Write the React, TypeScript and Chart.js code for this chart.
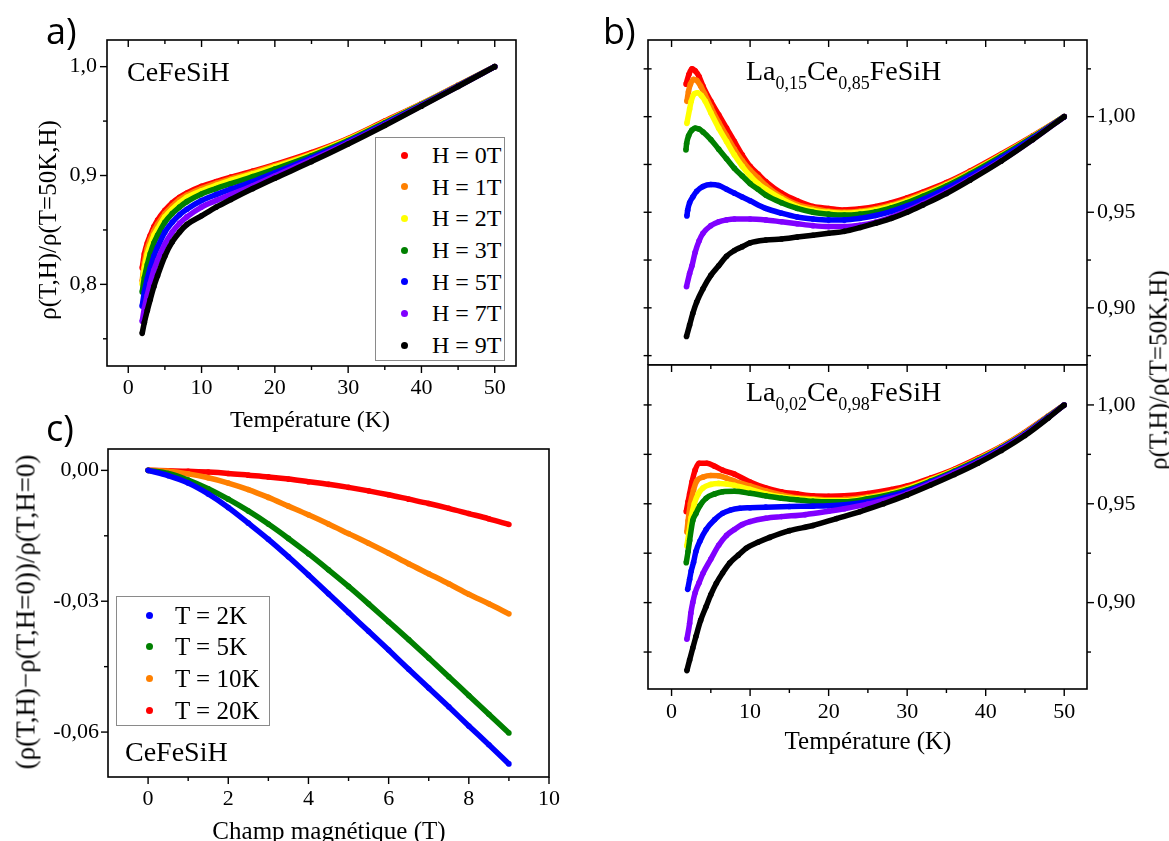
import React, { useEffect, useRef } from "react";
import { Chart, registerables } from "chart.js";
Chart.register(...registerables);

const SERIF = '"Liberation Serif", "Times New Roman", serif';
const SANS = '"Open Sans", "Noto Sans", sans-serif';

type Pt = [number, number];

// ---------- colours & labels ----------
const H_COLORS = ["#ff0000", "#ff8000", "#ffff00", "#008000", "#0000ff", "#8000ff", "#000000"];
const H_LABELS = ["H = 0T", "H = 1T", "H = 2T", "H = 3T", "H = 5T", "H = 7T", "H = 9T"];
const C_COLORS = ["#0000ff", "#008000", "#ff8000", "#ff0000"];
const C_LABELS = ["T = 2K", "T = 5K", "T = 10K", "T = 20K"];

// ---------- panel a : CeFeSiH ----------
const A_T = [1.9, 2.2, 2.6, 3, 3.5, 4, 5, 6, 7, 8, 10, 12, 14, 17, 20, 25, 30, 35, 40, 45, 50];
const A_H0 = [0.815, 0.828, 0.838, 0.845, 0.853, 0.859, 0.868, 0.875, 0.88, 0.884, 0.89, 0.8945, 0.8985, 0.904, 0.91, 0.921, 0.934, 0.95, 0.966, 0.983, 1.0];
const A_H1 = [0.803, 0.82, 0.833, 0.841, 0.849, 0.855, 0.865, 0.872, 0.878, 0.882, 0.888, 0.8928, 0.897, 0.9027, 0.909, 0.92, 0.9335, 0.9495, 0.9657, 0.9828, 1.0];
const A_H2 = [0.8, 0.815, 0.828, 0.836, 0.845, 0.851, 0.862, 0.869, 0.875, 0.88, 0.886, 0.891, 0.8955, 0.9015, 0.908, 0.9193, 0.933, 0.949, 0.9655, 0.9827, 1.0];
const A_H3 = [0.793, 0.806, 0.818, 0.828, 0.838, 0.845, 0.857, 0.865, 0.871, 0.876, 0.883, 0.888, 0.8925, 0.899, 0.906, 0.9182, 0.9322, 0.9485, 0.9652, 0.9825, 1.0];
const A_H5 = [0.78, 0.793, 0.805, 0.815, 0.826, 0.834, 0.848, 0.857, 0.864, 0.869, 0.877, 0.8825, 0.8875, 0.8945, 0.9025, 0.9163, 0.931, 0.9475, 0.9647, 0.9822, 1.0];
const A_H7 = [0.766, 0.778, 0.79, 0.801, 0.813, 0.822, 0.837, 0.848, 0.856, 0.862, 0.871, 0.877, 0.8825, 0.8905, 0.8995, 0.9145, 0.93, 0.9467, 0.9642, 0.982, 1.0];
const A_H9 = [0.755, 0.765, 0.776, 0.786, 0.798, 0.808, 0.826, 0.839, 0.848, 0.855, 0.863, 0.871, 0.878, 0.888, 0.8975, 0.9128, 0.929, 0.946, 0.9637, 0.9818, 1.0];
const A_X_TICKS = [0, 10, 20, 30, 40, 50];
const A_X_MINOR = [5, 15, 25, 35, 45];
const A_Y_TICKS = [0.8, 0.9, 1.0];
const A_Y_MINOR = [0.75, 0.85, 0.95];

// ---------- panel b (top) : La0.15Ce0.85FeSiH ----------
const BT_H0: Pt[] = [[1.85, 1.017], [2.2, 1.022], [2.6, 1.025], [3, 1.024], [3.5, 1.021], [4, 1.016], [5, 1.008], [6, 1.001], [7, 0.994], [8, 0.987], [9, 0.98], [10, 0.974], [11, 0.97], [12, 0.966], [14, 0.96], [16, 0.956], [18, 0.953], [20, 0.952], [22, 0.9512], [24, 0.9518], [26, 0.953], [28, 0.955], [30, 0.9575], [32, 0.9605], [35, 0.9655], [38, 0.9715], [42, 0.9805], [46, 0.99], [50, 1.0]];
const BT_H1: Pt[] = [[1.95, 1.008], [2.15, 1.013], [2.4, 1.017], [2.8, 1.0195], [3.2, 1.019], [3.7, 1.016], [4.2, 1.012], [5, 1.005], [6, 0.997], [7, 0.99], [8, 0.983], [9, 0.977], [10, 0.972], [11, 0.968], [12, 0.964], [14, 0.958], [16, 0.954], [18, 0.952], [20, 0.9505], [22, 0.95], [24, 0.9505], [26, 0.9518], [28, 0.9538], [30, 0.9565], [32, 0.9596], [35, 0.9648], [38, 0.9709], [42, 0.98], [46, 0.9897], [50, 1.0]];
const BT_H2: Pt[] = [[1.95, 0.9965], [2.3, 1.004], [2.5, 1.008], [2.9, 1.012], [3.3, 1.0125], [3.8, 1.011], [4.3, 1.008], [5, 1.002], [6, 0.994], [7, 0.987], [8, 0.98], [9, 0.974], [10, 0.969], [11, 0.965], [12, 0.962], [14, 0.957], [16, 0.953], [18, 0.951], [20, 0.95], [22, 0.9495], [24, 0.95], [26, 0.9512], [28, 0.9532], [30, 0.9558], [32, 0.959], [35, 0.9643], [38, 0.9705], [42, 0.9797], [46, 0.9895], [50, 1.0]];
const BT_H3: Pt[] = [[1.83, 0.9826], [1.92, 0.986], [2.17, 0.99], [2.6, 0.993], [3, 0.994], [3.5, 0.9935], [4, 0.992], [5, 0.988], [6, 0.983], [7, 0.978], [8, 0.973], [9, 0.969], [10, 0.965], [11, 0.962], [12, 0.959], [14, 0.955], [16, 0.952], [18, 0.95], [20, 0.949], [22, 0.9485], [24, 0.949], [26, 0.9502], [28, 0.9523], [30, 0.955], [32, 0.9583], [35, 0.9637], [38, 0.97], [42, 0.9793], [46, 0.9893], [50, 1.0]];
const BT_H5: Pt[] = [[1.95, 0.948], [2.05, 0.951], [2.3, 0.955], [2.7, 0.958], [3.2, 0.961], [4, 0.9635], [5, 0.9645], [6, 0.964], [7, 0.962], [8, 0.96], [9, 0.958], [10, 0.956], [12, 0.952], [14, 0.9495], [16, 0.9475], [18, 0.9465], [20, 0.946], [22, 0.946], [24, 0.9468], [26, 0.9483], [28, 0.9505], [30, 0.9533], [32, 0.9567], [35, 0.9625], [38, 0.969], [42, 0.9785], [46, 0.9888], [50, 1.0]];
const BT_H7: Pt[] = [[1.9, 0.911], [2.3, 0.918], [2.6, 0.922], [3, 0.929], [3.5, 0.935], [4, 0.939], [5, 0.943], [6, 0.945], [7, 0.946], [8, 0.9465], [10, 0.9465], [12, 0.946], [14, 0.945], [16, 0.944], [18, 0.943], [20, 0.9425], [22, 0.9425], [24, 0.9432], [26, 0.9448], [28, 0.9475], [30, 0.9508], [32, 0.9545], [35, 0.9605], [38, 0.9673], [42, 0.9771], [46, 0.9881], [50, 1.0]];
const BT_H9: Pt[] = [[1.9, 0.885], [2.3, 0.891], [2.7, 0.897], [3.2, 0.903], [4, 0.91], [5, 0.917], [6, 0.922], [7, 0.927], [8, 0.93], [9, 0.932], [10, 0.934], [12, 0.9355], [14, 0.936], [16, 0.937], [18, 0.938], [20, 0.939], [22, 0.94], [24, 0.942], [26, 0.9443], [28, 0.9468], [30, 0.95], [32, 0.9538], [35, 0.9598], [38, 0.9668], [42, 0.9768], [46, 0.988], [50, 1.0]];

// ---------- panel b (bottom) : La0.02Ce0.98FeSiH ----------
const BB_H0: Pt[] = [[1.87, 0.946], [2.1, 0.951], [2.3, 0.955], [2.6, 0.961], [3, 0.967], [3.5, 0.9705], [4.5, 0.9705], [5.5, 0.969], [6.5, 0.967], [8, 0.965], [10, 0.961], [12, 0.958], [14, 0.956], [16, 0.955], [18, 0.954], [20, 0.9538], [22, 0.954], [25, 0.9552], [28, 0.9572], [30, 0.959], [33, 0.963], [36, 0.9675], [39, 0.973], [42, 0.979], [45, 0.9862], [48, 0.9945], [50, 1.0]];
const BB_H1: Pt[] = [[1.95, 0.9357], [2.1, 0.9413], [2.4, 0.95], [2.8, 0.957], [3.2, 0.9615], [4, 0.9635], [5, 0.9643], [6, 0.9642], [7, 0.963], [8, 0.9615], [10, 0.959], [12, 0.9565], [14, 0.9545], [16, 0.953], [18, 0.9525], [20, 0.952], [22, 0.9522], [25, 0.9535], [28, 0.9558], [30, 0.958], [33, 0.9623], [36, 0.967], [39, 0.9725], [42, 0.9788], [45, 0.986], [48, 0.9944], [50, 1.0]];
const BB_H2: Pt[] = [[1.95, 0.9287], [2.2, 0.935], [2.5, 0.943], [2.9, 0.95], [3.4, 0.955], [4, 0.958], [5, 0.9598], [6, 0.9603], [7, 0.96], [8, 0.9593], [10, 0.9573], [12, 0.955], [14, 0.9535], [16, 0.9525], [18, 0.952], [20, 0.9515], [22, 0.9515], [25, 0.953], [28, 0.9553], [30, 0.9575], [33, 0.962], [36, 0.9668], [39, 0.9722], [42, 0.9785], [45, 0.9857], [48, 0.9943], [50, 1.0]];
const BB_H3: Pt[] = [[1.87, 0.9202], [2.1, 0.9258], [2.3, 0.9314], [2.7, 0.9415], [3.1, 0.945], [3.6, 0.949], [4.4, 0.9528], [5.5, 0.955], [6.5, 0.9561], [8, 0.9563], [10, 0.9553], [12, 0.954], [14, 0.9528], [16, 0.952], [18, 0.9513], [20, 0.951], [22, 0.951], [25, 0.9525], [28, 0.9548], [30, 0.957], [33, 0.9615], [36, 0.9665], [39, 0.972], [42, 0.9783], [45, 0.9855], [48, 0.9942], [50, 1.0]];
const BB_H5: Pt[] = [[2.05, 0.9067], [2.3, 0.9118], [2.5, 0.916], [2.8, 0.9204], [3.1, 0.9258], [3.6, 0.931], [4.4, 0.937], [5.5, 0.942], [6.5, 0.9452], [7.5, 0.9468], [8.7, 0.9477], [10, 0.948], [12, 0.9483], [15, 0.9486], [18, 0.9488], [20, 0.949], [22, 0.9495], [25, 0.951], [28, 0.954], [30, 0.9563], [33, 0.961], [36, 0.966], [39, 0.9715], [42, 0.978], [45, 0.9853], [48, 0.994], [50, 1.0]];
const BB_H7: Pt[] = [[1.95, 0.8815], [2.3, 0.8895], [2.45, 0.8946], [2.7, 0.9], [3, 0.905], [3.5, 0.91], [4, 0.9148], [5, 0.922], [6, 0.929], [7, 0.934], [8, 0.937], [9, 0.9395], [10, 0.941], [12, 0.9427], [14, 0.9435], [17, 0.9445], [20, 0.9462], [22, 0.9475], [25, 0.9498], [28, 0.9527], [30, 0.9552], [33, 0.9603], [36, 0.9655], [39, 0.971], [42, 0.9775], [45, 0.985], [48, 0.9937], [50, 1.0]];
const BB_H9: Pt[] = [[1.95, 0.8656], [2.3, 0.871], [2.7, 0.877], [3.1, 0.8828], [3.7, 0.891], [4.4, 0.898], [5, 0.904], [5.7, 0.9098], [6.5, 0.915], [7.4, 0.92], [8.5, 0.924], [9.5, 0.9275], [11, 0.9305], [12.5, 0.933], [15, 0.9364], [18, 0.939], [21, 0.9425], [24, 0.946], [27, 0.95], [30, 0.9545], [33, 0.9595], [36, 0.9648], [39, 0.9705], [42, 0.977], [45, 0.9845], [48, 0.9935], [50, 1.0]];
const B_X_TICKS = [0, 10, 20, 30, 40, 50];
const B_X_MINOR = [5, 15, 25, 35, 45];
const B_Y_TICKS = [0.9, 0.95, 1.0];
const BT_Y_MINOR = [0.875, 0.925, 0.975, 1.025];
const BB_Y_MINOR = [0.875, 0.925, 0.975];

// ---------- panel c : magnetoresistance CeFeSiH ----------
const C_H = [0, 0.5, 1, 1.5, 2, 2.5, 3, 3.5, 4, 4.5, 5, 5.5, 6, 6.5, 7, 7.5, 8, 8.5, 9];
const C_T2 = [0, -0.0012, -0.0029, -0.0054, -0.0085, -0.0121, -0.0158, -0.0198, -0.024, -0.0283, -0.0326, -0.0369, -0.0412, -0.0456, -0.0499, -0.0542, -0.0586, -0.0629, -0.0673];
const C_T5 = [0, -0.0007, -0.0022, -0.0042, -0.0066, -0.0093, -0.0123, -0.0156, -0.0191, -0.0228, -0.0266, -0.0306, -0.0347, -0.0388, -0.043, -0.0473, -0.0516, -0.0559, -0.0602];
const C_T10 = [0, -0.0002, -0.0008, -0.0017, -0.0029, -0.0044, -0.0062, -0.0082, -0.0102, -0.0123, -0.0145, -0.0167, -0.019, -0.0214, -0.0237, -0.026, -0.0284, -0.0306, -0.0329];
const C_T20 = [0, -0.0001, -0.0002, -0.0004, -0.0007, -0.0011, -0.0015, -0.002, -0.0026, -0.0032, -0.0039, -0.0047, -0.0056, -0.0066, -0.0076, -0.0087, -0.0099, -0.0111, -0.0124];
const C_X_TICKS = [0, 2, 4, 6, 8, 10];
const C_X_MINOR = [1, 3, 5, 7, 9];
const C_Y_TICKS = [0, -0.03, -0.06];
const C_Y_MINOR = [-0.015, -0.045];

// ---------- helpers ----------
function fmt(v: number, d: number): string {
  const s = Math.abs(v) < 1e-9 ? (0).toFixed(d) : v.toFixed(d);
  return s.replace(".", ",");
}

function zip(xs: number[], ys: number[]): Pt[] {
  return xs.map((x, i) => [x, ys[i]] as Pt);
}

function lineDs(label: string, pts: Pt[], color: string, order: number) {
  return {
    label,
    data: pts.map(([x, y]) => ({ x, y })),
    borderColor: color,
    backgroundColor: color,
    borderWidth: 5.5,
    pointRadius: 2.8,
    pointBorderWidth: 0,
    pointHoverRadius: 0,
    cubicInterpolationMode: "monotone",
    order,
    fill: false,
  };
}

const framePlugin = {
  id: "frame",
  afterDatasetsDraw(chart: any, _args: any, opts: any) {
    const { ctx, chartArea } = chart;
    const { left, right, top, bottom } = chartArea;
    const xs = chart.scales.x;
    const ys = chart.scales.y;
    ctx.save();
    ctx.strokeStyle = "#000";
    ctx.lineWidth = 1.6;
    ctx.strokeRect(left, top, right - left, bottom - top);
    ctx.lineWidth = 1.4;
    const sides = opts.sides || {};
    for (const side of Object.keys(sides)) {
      const spec = sides[side];
      const list: [number, number][] = [
        ...(spec.major || []).map((v: number) => [v, spec.majorLen ?? 7] as [number, number]),
        ...(spec.minor || []).map((v: number) => [v, spec.minorLen ?? 4] as [number, number]),
      ];
      for (const [v, len] of list) {
        ctx.beginPath();
        if (side === "bottom" || side === "top") {
          const p = xs.getPixelForValue(v);
          const edge = side === "bottom" ? bottom : top;
          const out = side === "bottom" ? 1 : -1;
          let a = edge, b = edge;
          if (spec.dir === "out") b = edge + out * len;
          else if (spec.dir === "in") b = edge - out * len;
          else { a = edge - out * len * 0.45; b = edge + out * len * 0.55; }
          ctx.moveTo(p, a);
          ctx.lineTo(p, b);
        } else {
          const p = ys.getPixelForValue(v);
          const edge = side === "left" ? left : right;
          const out = side === "left" ? -1 : 1;
          let a = edge, b = edge;
          if (spec.dir === "out") b = edge + out * len;
          else if (spec.dir === "in") b = edge - out * len;
          else { a = edge - out * len * 0.45; b = edge + out * len * 0.55; }
          ctx.moveTo(a, p);
          ctx.lineTo(b, p);
        }
        ctx.stroke();
      }
    }
    ctx.restore();
  },
};

interface PanelCfg {
  datasets: any[];
  xMin: number; xMax: number; yMin: number; yMax: number;
  xTicks: number[]; yTicks: number[];
  xDec: number; yDec: number;
  showX: boolean;
  yPos: "left" | "right";
  yWidth: number; xHeight: number;
  padding: { left: number; top: number; right: number; bottom: number };
  sides: any;
  xPad: number; yPad: number;
}

function zeroPad(s: any) {
  s.paddingTop = 0;
  s.paddingBottom = 0;
  s.paddingLeft = 0;
  s.paddingRight = 0;
}

function makeConfig(p: PanelCfg): any {
  const tickFont = { family: SERIF, size: 22 };
  return {
    type: "line",
    data: { datasets: p.datasets },
    options: {
      responsive: false,
      animation: false,
      devicePixelRatio: 1,
      events: [],
      layout: { padding: p.padding, autoPadding: false },
      plugins: {
        legend: { display: false },
        tooltip: { enabled: false },
        frame: { sides: p.sides },
      },
      scales: {
        x: {
          type: "linear",
          position: "bottom",
          min: p.xMin,
          max: p.xMax,
          grid: { display: false, drawTicks: false },
          border: { display: false },
          ticks: {
            display: p.showX,
            color: "#000",
            font: tickFont,
            padding: p.xPad,
            maxRotation: 0,
            autoSkip: false,
            callback: (v: number) => fmt(v, p.xDec),
          },
          afterBuildTicks: (s: any) => { s.ticks = p.xTicks.map((v) => ({ value: v })); },
          afterFit: (s: any) => { s.height = p.xHeight; zeroPad(s); },
        },
        y: {
          type: "linear",
          position: p.yPos,
          min: p.yMin,
          max: p.yMax,
          grid: { display: false, drawTicks: false },
          border: { display: false },
          ticks: {
            color: "#000",
            font: tickFont,
            padding: p.yPad,
            autoSkip: false,
            callback: (v: number) => fmt(v, p.yDec),
          },
          afterBuildTicks: (s: any) => { s.ticks = p.yTicks.map((v) => ({ value: v })); },
          afterFit: (s: any) => { s.width = p.yWidth; zeroPad(s); },
        },
      },
    },
    plugins: [framePlugin],
  };
}

function ChartBox({ left, top, width, height, build }: { left: number; top: number; width: number; height: number; build: () => any }) {
  const ref = useRef<HTMLCanvasElement>(null);
  useEffect(() => {
    const chart = new Chart(ref.current as HTMLCanvasElement, build());
    return () => chart.destroy();
  }, []);
  return (
    <canvas
      ref={ref}
      width={width}
      height={height}
      style={{ position: "absolute", left, top, width, height }}
    />
  );
}

function Txt({ x, y, size, children, family = SERIF }: { x: number; y: number; size: number; children: any; family?: string }) {
  return (
    <div style={{ position: "absolute", left: x, top: y, fontFamily: family, fontSize: size, lineHeight: `${size}px`, whiteSpace: "nowrap", color: "#000" }}>
      {children}
    </div>
  );
}

function Title({ cx, cy, rot, text, size = 25 }: { cx: number; cy: number; rot: number; text: string; size?: number }) {
  return (
    <div
      style={{
        position: "absolute",
        left: cx,
        top: cy,
        transform: `translate(-50%, -50%) rotate(${rot}deg)`,
        fontFamily: SERIF,
        fontSize: size,
        lineHeight: `${size}px`,
        whiteSpace: "nowrap",
        color: "#000",
      }}
    >
      {text}
    </div>
  );
}

function Legend({ left, top, width, height, labels, colors, firstY, step, dotX, textX, size }: any) {
  return (
    <>
      <div style={{ position: "absolute", left, top, width, height, border: "1px solid #8a8a8a", boxSizing: "border-box", background: "#fff" }} />
      {labels.map((lab: string, i: number) => {
        const cy = firstY + i * step;
        return (
          <React.Fragment key={lab}>
            <div style={{ position: "absolute", left: dotX - 3.5, top: cy - 3.5, width: 7, height: 7, borderRadius: "50%", background: colors[i] }} />
            <div style={{ position: "absolute", left: textX, top: cy - size / 2, fontFamily: SERIF, fontSize: size, lineHeight: `${size}px`, whiteSpace: "nowrap" }}>{lab}</div>
          </React.Fragment>
        );
      })}
    </>
  );
}

const SUB = { fontSize: 18, position: "relative" as const, top: 9 };

export default function App() {
  const aSeries = [A_H0, A_H1, A_H2, A_H3, A_H5, A_H7, A_H9];
  const btSeries = [BT_H0, BT_H1, BT_H2, BT_H3, BT_H5, BT_H7, BT_H9];
  const bbSeries = [BB_H0, BB_H1, BB_H2, BB_H3, BB_H5, BB_H7, BB_H9];
  const cSeries = [C_T2, C_T5, C_T10, C_T20];

  const buildA = () =>
    makeConfig({
      datasets: aSeries.map((ys, i) => lineDs(H_LABELS[i], zip(A_T, ys), H_COLORS[i], 6 - i)),
      xMin: -2.9, xMax: 52.9, yMin: 0.725, yMax: 1.0245,
      xTicks: A_X_TICKS, yTicks: A_Y_TICKS, xDec: 0, yDec: 1,
      showX: true, yPos: "left", yWidth: 107, xHeight: 54,
      padding: { left: 0, top: 40, right: 24, bottom: 0 },
      xPad: 9, yPad: 10,
      sides: {
        bottom: { dir: "out", major: A_X_TICKS, minor: A_X_MINOR },
        top: { dir: "in", major: A_X_TICKS, minor: A_X_MINOR },
        left: { dir: "out", major: A_Y_TICKS, minor: A_Y_MINOR },
      },
    });

  const buildBT = () =>
    makeConfig({
      datasets: btSeries.map((pts, i) => lineDs(H_LABELS[i], pts, H_COLORS[i], 6 - i)),
      xMin: -3, xMax: 52.9, yMin: 0.8701, yMax: 1.0401,
      xTicks: B_X_TICKS, yTicks: B_Y_TICKS, xDec: 0, yDec: 2,
      showX: false, yPos: "right", yWidth: 82, xHeight: 0,
      padding: { left: 48, top: 40, right: 0, bottom: 0 },
      xPad: 0, yPad: 10,
      sides: {
        top: { dir: "in", major: B_X_TICKS, minor: B_X_MINOR },
        left: { dir: "cross", major: [...B_Y_TICKS, ...BT_Y_MINOR], minor: [], majorLen: 8 },
        right: { dir: "out", major: B_Y_TICKS, minor: BT_Y_MINOR },
      },
    });

  const buildBB = () =>
    makeConfig({
      datasets: bbSeries.map((pts, i) => lineDs(H_LABELS[i], pts, H_COLORS[i], 6 - i)),
      xMin: -3, xMax: 52.9, yMin: 0.8563, yMax: 1.0202,
      xTicks: B_X_TICKS, yTicks: B_Y_TICKS, xDec: 0, yDec: 2,
      showX: true, yPos: "right", yWidth: 82, xHeight: 56,
      padding: { left: 48, top: 20, right: 0, bottom: 0 },
      xPad: 10, yPad: 10,
      sides: {
        top: { dir: "in", major: B_X_TICKS, minor: B_X_MINOR },
        bottom: { dir: "out", major: B_X_TICKS, minor: B_X_MINOR },
        left: { dir: "cross", major: [...B_Y_TICKS, ...BB_Y_MINOR], minor: [], majorLen: 8 },
        right: { dir: "out", major: B_Y_TICKS, minor: BB_Y_MINOR },
      },
    });

  const buildC = () =>
    makeConfig({
      datasets: cSeries.map((ys, i) => lineDs(C_LABELS[i], zip(C_H, ys), C_COLORS[i], i)),
      xMin: -1, xMax: 10, yMin: -0.0703, yMax: 0.0049,
      xTicks: C_X_TICKS, yTicks: C_Y_TICKS, xDec: 0, yDec: 2,
      showX: true, yPos: "left", yWidth: 108, xHeight: 53,
      padding: { left: 0, top: 19, right: 31, bottom: 0 },
      xPad: 9, yPad: 9,
      sides: {
        bottom: { dir: "out", major: C_X_TICKS, minor: C_X_MINOR },
        left: { dir: "out", major: C_Y_TICKS, minor: C_Y_MINOR },
      },
    });

  return (
    <div style={{ position: "fixed", left: 0, top: 0, width: 1169, height: 841, background: "#fff", overflow: "hidden" }}>
      <ChartBox left={0} top={0} width={540} height={420} build={buildA} />
      <ChartBox left={600} top={0} width={569} height={365} build={buildBT} />
      <ChartBox left={600} top={345} width={569} height={400} build={buildBB} />
      <ChartBox left={0} top={430} width={580} height={400} build={buildC} />

      {/* panel letters */}
      <Txt x={46} y={13} size={36} family={SANS}>a)</Txt>
      <Txt x={603} y={13} size={36} family={SANS}>b)</Txt>
      <Txt x={46} y={410} size={36} family={SANS}>c)</Txt>

      {/* axis titles */}
      <Title cx={310} cy={419} rot={0} size={24} text="Température (K)" />
      <Title cx={47} cy={220} rot={-90} text="ρ(T,H)/ρ(T=50K,H)" />
      <Title cx={868} cy={740} rot={0} text="Température (K)" />
      <Title cx={1158} cy={370} rot={-90} text="ρ(T,H)/ρ(T=50K,H)" />
      <Title cx={329} cy={830} rot={0} text="Champ magnétique (T)" />
      <Title cx={26} cy={612} rot={-90} size={27} text="(ρ(T,H)−ρ(T,H=0))/ρ(T,H=0)" />

      {/* annotations */}
      <Txt x={127} y={58} size={28}>CeFeSiH</Txt>
      <Txt x={125} y={738} size={28}>CeFeSiH</Txt>
      <Txt x={746} y={57} size={28}>
        La<span style={SUB}>0,15</span>Ce<span style={SUB}>0,85</span>FeSiH
      </Txt>
      <Txt x={746} y={378} size={28}>
        La<span style={SUB}>0,02</span>Ce<span style={SUB}>0,98</span>FeSiH
      </Txt>

      {/* legends */}
      <Legend left={375} top={137} width={130} height={224} labels={H_LABELS} colors={H_COLORS} firstY={155} step={31.67} dotX={404} textX={432} size={24} />
      <Legend left={116} top={596} width={154} height={130} labels={C_LABELS} colors={C_COLORS} firstY={615} step={31.7} dotX={149} textX={175} size={25} />
    </div>
  );
}
